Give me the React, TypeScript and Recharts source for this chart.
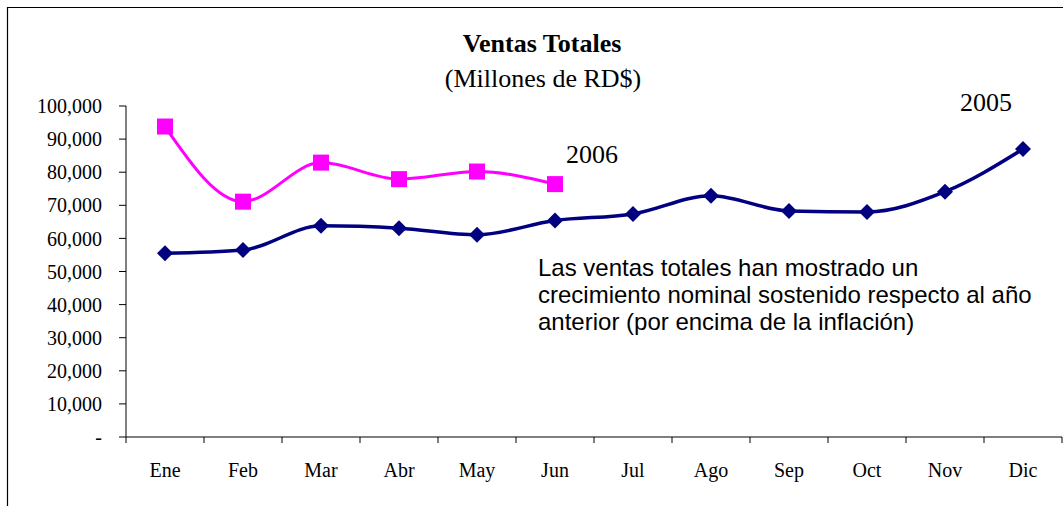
import { LineChart, Line, XAxis, YAxis } from "recharts"

const months = ["Ene", "Feb", "Mar", "Abr", "May", "Jun", "Jul", "Ago", "Sep", "Oct", "Nov", "Dic"]
const ventas2005 = [55500, 56500, 63800, 63100, 61100, 65400, 67400, 72900, 68300, 68000, 74100, 87000]
const ventas2006 = [93800, 71100, 82900, 77900, 80200, 76400]
const yTicks = [0, 10000, 20000, 30000, 40000, 50000, 60000, 70000, 80000, 90000, 100000]

const data = months.map((m, i) => ({
  name: m,
  v2005: ventas2005[i],
  v2006: i < ventas2006.length ? ventas2006[i] : null,
}))

const W = 1063
const H = 506
const PLOT_LEFT = 126
const PLOT_RIGHT = 1062
const PLOT_BOTTOM = 437
const BAND = (PLOT_RIGHT - PLOT_LEFT) / months.length
const serif = "'Liberation Serif', 'Times New Roman', serif"
const sans = "'Liberation Sans', Arial, sans-serif"

const numberFormatter = new Intl.NumberFormat("en-US")

const MonthTick = (props: any) => {
  const { x, y, payload, index } = props
  const half = BAND / 2
  return (
    <g>
      <line x1={x - half} y1={y} x2={x - half} y2={y + 6} stroke="#000" />
      {index === months.length - 1 && (
        <line x1={x + half} y1={y} x2={x + half} y2={y + 6} stroke="#000" />
      )}
      <text x={x} y={y + 40} textAnchor="middle" fontFamily={serif} fontSize={20} fill="#000">
        {payload.value}
      </text>
    </g>
  )
}

const SquareDot = (props: any) => {
  const { cx, cy, index } = props
  if (cx == null || cy == null) return <g key={index} />
  return <rect key={index} x={cx - 8} y={cy - 8} width={16} height={16} fill="#ff00ff" />
}

const DiamondDot = (props: any) => {
  const { cx, cy, index } = props
  if (cx == null || cy == null) return <g key={index} />
  return (
    <polygon
      key={index}
      points={`${cx},${cy - 8} ${cx + 8},${cy} ${cx},${cy + 8} ${cx - 8},${cy}`}
      fill="#000080"
    />
  )
}

export default function App() {
  return (
    <div style={{ position: "absolute", left: 0, top: 0, width: W, height: H, background: "#fff" }}>
      <LineChart
        width={W}
        height={H}
        data={data}
        margin={{ top: 106, right: W - PLOT_RIGHT, bottom: 0, left: 0 }}
      >
        <XAxis
          dataKey="name"
          padding={{ left: BAND / 2, right: BAND / 2 }}
          axisLine={{ stroke: "#000" }}
          tickLine={false}
          tickSize={0}
          tickMargin={0}
          tick={<MonthTick />}
          interval={0}
          height={H - PLOT_BOTTOM}
        />
        <YAxis
          width={PLOT_LEFT}
          domain={[0, 100000]}
          ticks={yTicks}
          interval={0}
          axisLine={{ stroke: "#000" }}
          tickLine={{ stroke: "#000" }}
          tickSize={7}
          tickMargin={17}
          tick={{ fontFamily: serif, fontSize: 20, fill: "#000" }}
          tickFormatter={(v: number) => (v === 0 ? "-" : numberFormatter.format(v))}
        />
        <Line
          type="monotone"
          dataKey="v2005"
          stroke="#000080"
          strokeWidth={3.5}
          dot={<DiamondDot />}
          activeDot={false}
          isAnimationActive={false}
        />
        <Line
          type="monotone"
          dataKey="v2006"
          stroke="#ff00ff"
          strokeWidth={3}
          dot={<SquareDot />}
          activeDot={false}
          connectNulls={false}
          isAnimationActive={false}
        />
      </LineChart>
      <svg
        width={W}
        height={H}
        style={{ position: "absolute", left: 0, top: 0, pointerEvents: "none" }}
      >
        <path d={`M7.5,${H} L7.5,7.5 L${W},7.5`} fill="none" stroke="#000" strokeWidth={1.2} />
        <text x={542} y={52} textAnchor="middle" fontFamily={serif} fontWeight="bold" fontSize={26} fill="#000">
          Ventas Totales
        </text>
        <text x={543} y={87} textAnchor="middle" fontFamily={serif} fontSize={26} fill="#000">
          (Millones de RD$)
        </text>
        <text x={566} y={163} fontFamily={serif} fontSize={26} fill="#000">2006</text>
        <text x={960} y={111} fontFamily={serif} fontSize={26} fill="#000">2005</text>
        <text fontFamily={sans} fontSize={24} fill="#000">
          <tspan x={538} y={276}>Las ventas totales han mostrado un</tspan>
          <tspan x={538} y={303}>crecimiento nominal sostenido respecto al año</tspan>
          <tspan x={538} y={330}>anterior (por encima de la inflación)</tspan>
        </text>
      </svg>
    </div>
  )
}
